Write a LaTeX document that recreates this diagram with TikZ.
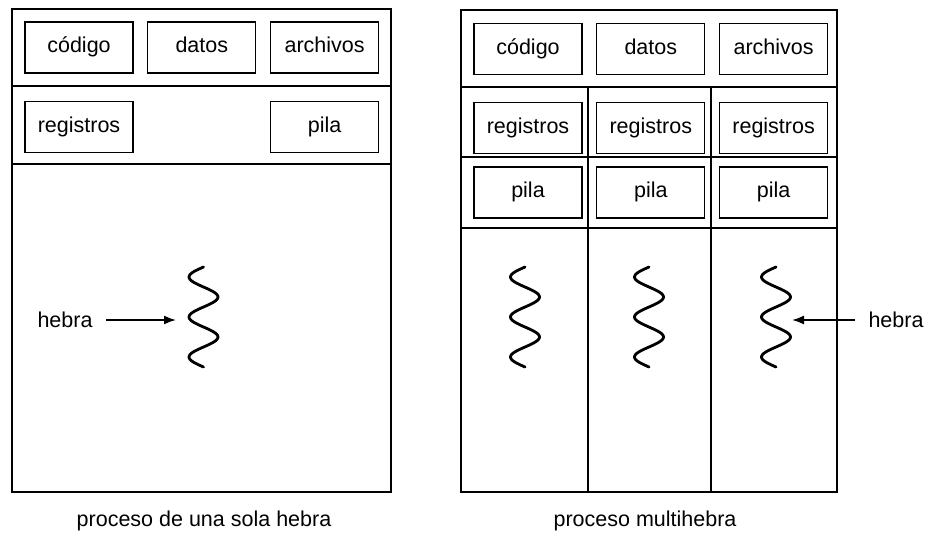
\documentclass[tikz,border=0pt]{standalone}
\usepackage{fontspec}
\setmainfont{Liberation Sans}
\usetikzlibrary{arrows.meta,positioning}
\newcommand{\hebra}[1]{\draw[wave,shift={(#1,267)}] plot[domain=0:900,samples=90,smooth] ({-14.5*sin(\x)},{\x/9});}

\begin{document}
\begin{tikzpicture}[
x=1pt,y=-1pt,
node distance=27pt and 13.5pt,
every node/.style={font=\fontsize{21.5}{25}\selectfont},
box/.style={draw,line width=1.3pt,minimum width=108pt,minimum height=51pt,inner sep=0pt,text height=15pt,text depth=4.5pt},
frame/.style={line width=1.6pt},
lbl/.style={inner sep=0pt,outer xsep=14pt},
wave/.style={line width=2.8pt,line cap=round},
arr/.style={-{Latex[length=12pt,width=9pt]},line width=1.6pt}
]
\useasboundingbox (0,0) rectangle (929,538);
% proceso de una sola hebra
\draw[frame] (12,9) rectangle (391,492);
\draw[frame] (12,86) -- (391,86);
\draw[frame] (12,164) -- (391,164);
\node[box] (cod1) at (79,47.5) {código};
\node[box,right=of cod1] (dat1) {datos};
\node[box,right=of dat1] (arc1) {archivos};
\node[box,below=of cod1] (reg1) {registros};
\node[box,below=of arc1] (pil1) {pila};
\hebra{203.5}
\coordinate (h1) at (176,320);
\node[lbl] (lab1) at (65,320) {hebra};
\draw[arr] (lab1.east) -- (h1);
\node (cap1) at (204,521) {proceso de una sola hebra};
% proceso multihebra
\draw[frame] (461,10) rectangle (837,492);
\draw[frame] (461,87) -- (837,87);
\draw[frame] (461,157) -- (837,157);
\draw[frame] (461,228) -- (837,228);
\draw[frame] (588,87) -- (588,492);
\draw[frame] (711,87) -- (711,492);
\node[box] (cod2) at (528,49) {código};
\node[box,right=of cod2] (dat2) {datos};
\node[box,right=of dat2] (arc2) {archivos};
\node[box,below=of cod2] (reg2a) {registros};
\node[box,right=of reg2a] (reg2b) {registros};
\node[box,right=of reg2b] (reg2c) {registros};
\node[box,below=12pt of reg2a] (pil2a) {pila};
\node[box,right=of pil2a] (pil2b) {pila};
\node[box,right=of pil2b] (pil2c) {pila};
\hebra{525}
\hebra{649}
\hebra{776}
\coordinate (h2) at (792,320);
\node[lbl] (lab2) at (896,320) {hebra};
\draw[arr] (lab2.west) -- (h2);
\node (cap2) at (645,521) {proceso multihebra};
\end{tikzpicture}
\end{document}
